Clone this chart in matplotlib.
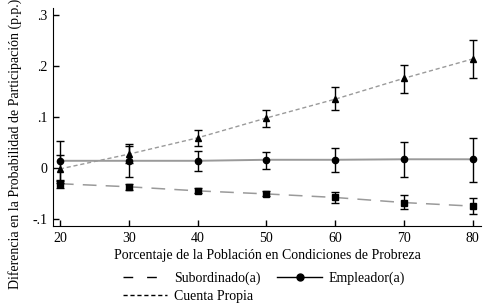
import numpy as np
import matplotlib
matplotlib.use("Agg")
import matplotlib.pyplot as plt
from matplotlib.lines import Line2D

plt.rcParams['font.family'] = ['Liberation Serif', 'DejaVu Serif']

# poverty share (x) and estimated differences with CI bounds
pobreza = [20, 30, 40, 50, 60, 70, 80]

subordinado = [-0.031, -0.037, -0.045, -0.051, -0.058, -0.068, -0.075]
subordinado_lo = [-0.040, -0.043, -0.050, -0.056, -0.069, -0.081, -0.091]
subordinado_hi = [-0.024, -0.031, -0.040, -0.046, -0.047, -0.054, -0.060]

empleador = [0.014, 0.014, 0.014, 0.016, 0.016, 0.017, 0.017]
empleador_lo = [-0.025, -0.018, -0.006, -0.002, -0.008, -0.017, -0.028]
empleador_hi = [0.053, 0.047, 0.033, 0.031, 0.039, 0.050, 0.059]

cuenta = [-0.002, 0.027, 0.059, 0.098, 0.135, 0.176, 0.214]
cuenta_lo = [-0.030, 0.010, 0.043, 0.080, 0.114, 0.147, 0.176]
cuenta_hi = [0.025, 0.043, 0.075, 0.114, 0.159, 0.203, 0.252]

ytick_vals = [-0.1, 0, 0.1, 0.2, 0.3]
ytick_labels = ['-.1', '0', '.1', '.2', '.3']


def err(y, lo, hi):
    y = np.array(y)
    return [y - np.array(lo), np.array(hi) - y]


fig = plt.figure(figsize=(4.96, 3.04), dpi=100)
ax = fig.add_axes([53 / 496, 1 - 226 / 304, 428 / 496, 218 / 304])

grey = '#9a9a9a'
ax.plot(pobreza, subordinado, color=grey, lw=1.1, dashes=(9, 6), zorder=1)
ax.plot(pobreza, empleador, color=grey, lw=1.4, zorder=1)
ax.plot(pobreza, cuenta, color=grey, lw=1, dashes=(3, 2), zorder=1)

ax.errorbar(pobreza, subordinado, yerr=err(subordinado, subordinado_lo, subordinado_hi),
            fmt='s', color='black', ms=5, capsize=3, elinewidth=1, capthick=1, zorder=3)
ax.errorbar(pobreza, empleador, yerr=err(empleador, empleador_lo, empleador_hi),
            fmt='o', color='black', ms=4.5, capsize=3, elinewidth=1, capthick=1, zorder=3)
ax.errorbar(pobreza, cuenta, yerr=err(cuenta, cuenta_lo, cuenta_hi),
            fmt='^', color='black', ms=4, capsize=3, elinewidth=1, capthick=1, zorder=3)

ax.set_xlim(19.0, 81.2)
ax.set_ylim(-0.114, 0.314)
ax.set_xticks(pobreza)
ax.set_yticks(ytick_vals)
ax.set_yticklabels(ytick_labels)
ax.tick_params(direction='in', length=4, width=1, labelsize=10, pad=4)
ax.spines['top'].set_visible(False)
ax.spines['right'].set_visible(False)

ax.set_xlabel('Porcentaje de la Población en Condiciones de Probreza', fontsize=10, labelpad=3)
fig.text(15 / 496, 1 - 144 / 304, 'Diferencia en la Probabilidad de Participación (p.p.)',
         rotation=90, ha='center', va='center', fontsize=10)

handles = [
    Line2D([], [], color='black', lw=1, dashes=(7, 10)),
    Line2D([], [], color='black', lw=1, dashes=(3, 2)),
    Line2D([], [], color='black', lw=1, marker='o', ms=5),
]
labels = ['Subordinado(a)', 'Cuenta Propia', 'Empleador(a)']
fig.legend(handles, labels, ncol=2, loc='upper left', bbox_to_anchor=(116 / 496, 1 - 265 / 304),
           frameon=False, fontsize=10, handlelength=3.2, handletextpad=0.5,
           columnspacing=1.2, labelspacing=0.3, borderpad=0)

fig.savefig('out.png', dpi=100)
